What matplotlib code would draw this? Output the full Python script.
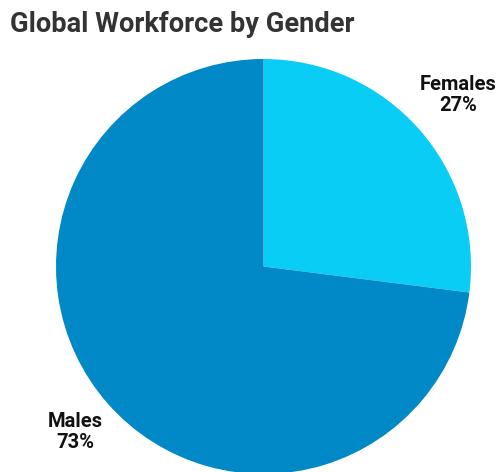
import matplotlib
matplotlib.use("Agg")
import matplotlib.pyplot as plt

categories = ["Females", "Males"]
shares = [27, 73]
colors = ["#0ACDF6", "#0088C7"]

W, H = 499, 472
fig = plt.figure(figsize=(W / 100, H / 100), dpi=100)
ax = fig.add_axes([0, 0, 1, 1])

cx, cy, r = 263.5, H - 266.5, 207.5
ax.pie(shares, colors=colors, startangle=90, counterclock=False,
       center=(cx, cy), radius=r, frame=True,
       wedgeprops=dict(linewidth=0))
ax.set_xlim(0, W)
ax.set_ylim(0, H)
ax.set_aspect("equal")
ax.axis("off")

fig.text(10 / W, 1 - 24 / H, "Global Workforce by Gender", fontsize=19.6,
         fontweight="bold", family="Roboto", color="#333333",
         ha="left", va="center")

label_pos = {"Females": (458.5, 95), "Males": (75, 432)}
for cat, v in zip(categories, shares):
    x, y = label_pos[cat]
    ax.text(x, H - y, f"{cat}\n{v}%", ha="center", va="center",
            fontsize=14.5, fontweight="bold", family="Roboto",
            color="#111111", linespacing=1.1)

fig.savefig("out.png", dpi=100)
